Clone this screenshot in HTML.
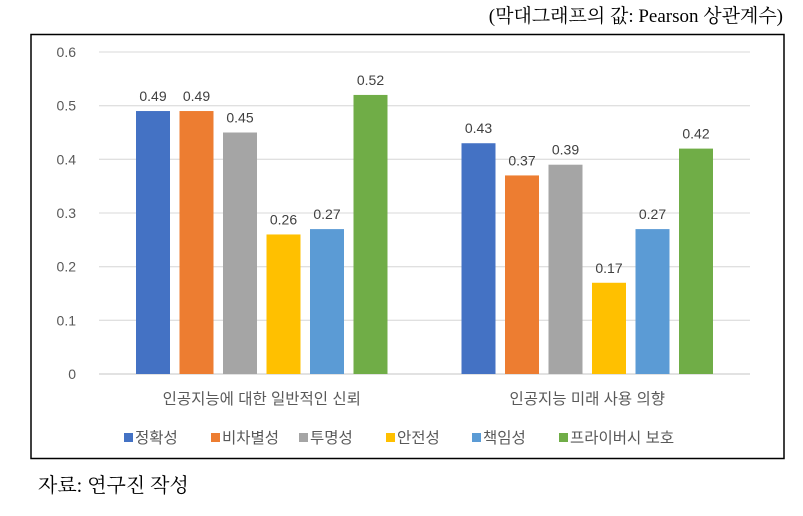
<!DOCTYPE html>
<html><head><meta charset="utf-8"><style>
body{margin:0;background:#fff;width:803px;height:511px;overflow:hidden;font-family:"Liberation Sans","Noto Sans CJK KR",sans-serif}
</style></head><body>
<svg width="803" height="511" xmlns="http://www.w3.org/2000/svg">
<text x="783" y="22" text-anchor="end" font-family="'Liberation Serif','Noto Serif CJK SC',serif" font-size="19" fill="#000">(막대그래프의 값: Pearson 상관계수)</text>
<rect x="31" y="34.5" width="753" height="424" fill="#fff" stroke="#000" stroke-width="1.5"/>
<g id="grid"></g><g id="bars"></g><g id="legend"></g>
<text x="38" y="492" font-family="'Liberation Serif','Noto Serif CJK SC',serif" font-size="20" fill="#000">자료: 연구진 작성</text>
</svg>
<script>
const categories=["인공지능에 대한 일반적인 신뢰","인공지능 미래 사용 의향"];
const seriesNames=["정확성","비차별성","투명성","안전성","책임성","프라이버시 보호"];
const values=[[0.49,0.43],[0.49,0.37],[0.45,0.39],[0.26,0.17],[0.27,0.27],[0.52,0.42]];
const ticks=[0,0.1,0.2,0.3,0.4,0.5,0.6];
const colors=["#4472c4","#ed7d31","#a5a5a5","#ffc000","#5b9bd5","#70ad47"];
const NS="http://www.w3.org/2000/svg";
const x0=99,x1=750,y0=374,yTop=52,vmax=0.6;
const y=v=>y0-(v/vmax)*(y0-yTop);
const catW=(x1-x0)/categories.length,slot=43.5,bw=34;
const barX=(c,s)=>x0+catW*c+(catW-slot*seriesNames.length)/2+slot*s+(slot-bw)/2;
function mk(tag,a,p,t){const e=document.createElementNS(NS,tag);for(const k in a)e.setAttribute(k,a[k]);if(t!==undefined)e.textContent=t;p.appendChild(e);return e;}
const G=document.getElementById('grid'),B=document.getElementById('bars'),L=document.getElementById('legend');
ticks.forEach(t=>{
 const l=mk('line',{x1:x0,x2:x1,y1:y(t),y2:y(t),stroke:t===0?'#d0d0d0':'#e0e0e0','stroke-width':1.3},G);
 
 
 const tx=mk('text',{x:76,y:y(t)+5,'text-anchor':'end','font-size':14,fill:'#595959'},G,t===0?'0':String(t));
 
 
});
categories.forEach((c,ci)=>{
 const tx=mk('text',{x:x0+catW*(ci+0.5),y:404,'text-anchor':'middle','font-size':15.5,fill:'#595959'},B,c);
 
 
 seriesNames.forEach((s,si)=>{
  const v=values[si][ci];
  const r=mk('rect',{x:barX(ci,si),y:y(v),width:bw,height:y0-y(v),fill:colors[si]},B);
  
  
  const lb=mk('text',{x:barX(ci,si)+bw/2,y:y(v)-10,'text-anchor':'middle','font-size':14,fill:'#404040'},B,v.toFixed(2));
  
  
 });
});
const legX=[124,211,299,386,472,559];
seriesNames.forEach((s,i)=>{
 const g=mk('g',{},L);
 
 
 mk('rect',{x:legX[i],y:433,width:9,height:9,fill:colors[i]},g);
 mk('text',{x:legX[i]+11,y:443,'font-size':15.5,fill:'#595959'},g,s);
});
</script>
</body></html>
